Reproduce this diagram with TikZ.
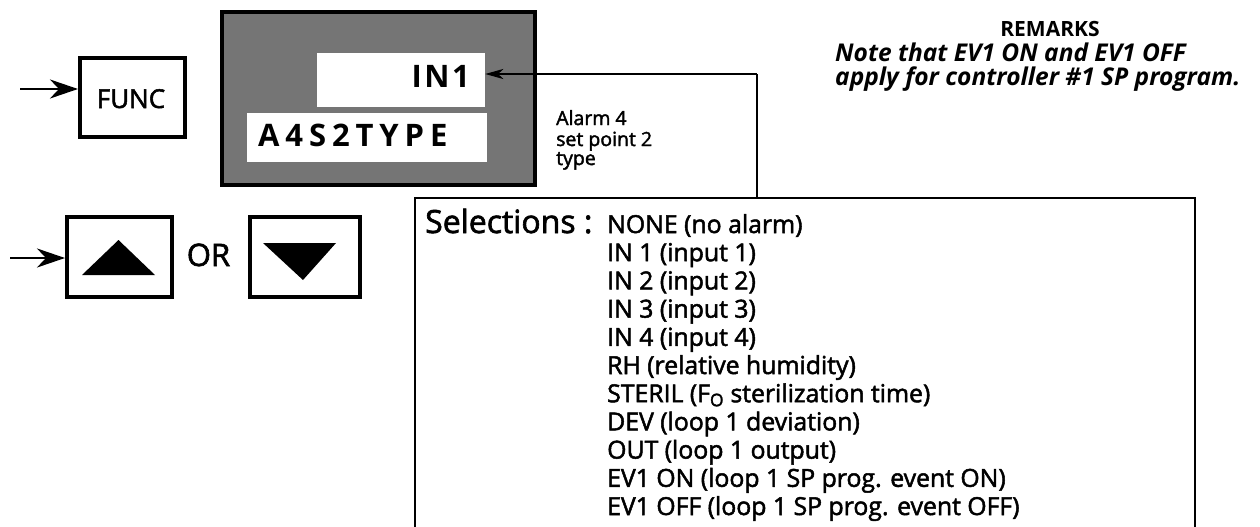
\documentclass[tikz,border=0pt]{standalone}
\usepackage{fontspec}
\setmainfont{Open Sans}[FakeBold=2]
\newfontfamily\dispfont[LetterSpace=8]{Open Sans Bold}
\newfontfamily\typefont[LetterSpace=19]{Open Sans Bold}
\newfontfamily\remfont{Open Sans Bold Italic}
\newfontfamily\remhead{Open Sans Bold}
\usetikzlibrary{arrows.meta}
\tikzset{
  key/.style={draw=black, line width=4pt, inner sep=0pt},
  lbl/.style={inner sep=0pt, anchor=base west},
  feed/.style={line width=2.8pt, -{Stealth[length=28pt,width=19pt,inset=9pt]}},
  link/.style={line width=2pt, -{Stealth[length=18pt,width=10pt,inset=5pt]}},
}
\begin{document}
\begin{tikzpicture}[x=1pt,y=-1pt]
\useasboundingbox (0,0) rectangle (1260,527);
% FUNC key
\node[key, minimum width=105pt, minimum height=79pt] (func) at (132.5,97.5) {};
\node[inner sep=0pt, anchor=base] (functxt) at (131,108) {\fontsize{26pt}{28pt}\selectfont FUNC};
\coordinate (fin) at (20,89);
\draw[feed] (fin) -- (func.west |- fin);
% display
\node[draw=black, line width=3.5pt, fill=black!54, minimum width=313pt, minimum height=173pt, inner sep=0pt] (disp) at (378.5,98.5) {};
\node[fill=white, minimum width=168pt, minimum height=54pt, inner sep=0pt] (in1box) at (401,80) {};
\node[fill=white, minimum width=240pt, minimum height=49pt, inner sep=0pt] (typebox) at (367,137.5) {};
\node[inner sep=0pt, anchor=base east] (in1) at (470,88) {\dispfont\fontsize{31pt}{34pt}\selectfont IN1};
\node[lbl] (a4s2) at (258,146) {\typefont\fontsize{31pt}{34pt}\selectfont A4S2TYPE};
% description
\node[lbl] (d1) at (556,125) {\fontsize{19.5pt}{21pt}\selectfont Alarm 4};
\node[lbl] (d2) at (556,146) {\fontsize{19.5pt}{21pt}\selectfont set point 2};
\node[lbl] (d3) at (556,165) {\fontsize{19.5pt}{21pt}\selectfont type};
% up / down keys
\node[key, minimum width=105pt, minimum height=80pt] (up) at (119.5,257) {};
\node[key, minimum width=110pt, minimum height=80pt] (down) at (305,257) {};
\fill (82,275) -- (155,275) -- (118.5,240) -- cycle;
\fill (263,243) -- (336,243) -- (303,280) -- cycle;
\node[inner sep=0pt, anchor=base] (or) at (208.5,266) {\fontsize{31pt}{33pt}\selectfont OR};
\coordinate (uin) at (10,258);
\draw[feed] (uin) -- (up.west |- uin);
% selections box
\draw[line width=2pt] (415,545) -- (415,198) -- (1195,198) -- (1195,545);
\coordinate (selnorth) at (757,198);
\coordinate (bend) at (757,74);
\draw[line width=2pt] (selnorth) -- (bend);
\draw[link] (bend) -- (in1box.east |- bend);
\node[lbl] (sel) at (425,233) {\fontsize{32pt}{34pt}\selectfont Selections :};
\foreach \t [count=\i from 0] in {
  NONE (no alarm),
  IN 1 (input 1),
  IN 2 (input 2),
  IN 3 (input 3),
  IN 4 (input 4),
  RH (relative humidity),
  STERIL (F\textsubscript{O} sterilization time),
  DEV (loop 1 deviation),
  OUT (loop 1 output),
  EV1 ON (loop 1 SP prog. event ON),
  EV1 OFF (loop 1 SP prog. event OFF)}
  \node[lbl] (item\i) at (607,233+28.2*\i) {\fontsize{24.8pt}{26pt}\selectfont \t};
% remarks
\node[inner sep=0pt, anchor=base] (rem) at (1050,37) {\remhead\fontsize{21pt}{23pt}\selectfont REMARKS};
\node[lbl] (r1) at (835,62) {\remfont\fontsize{24.5pt}{26pt}\selectfont Note that EV1 ON and EV1 OFF};
\node[lbl] (r2) at (835,85) {\remfont\fontsize{24.5pt}{26pt}\selectfont apply for controller \#1 SP program.};
\end{tikzpicture}
\end{document}
